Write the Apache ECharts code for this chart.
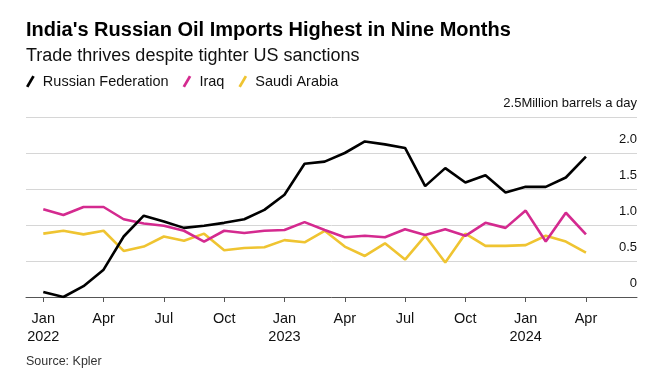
<!DOCTYPE html>
<html>
<head>
<meta charset="utf-8">
<script src="https://cdn.jsdelivr.net/npm/echarts@6/dist/echarts.min.js"></script>
<style>
html,body{margin:0;padding:0;background:#fff;}
#chart{width:667px;height:380px;}
</style>
</head>
<body>
<div id="chart"></div>
<script>
// Months from Jan 2022 to Apr 2024 (index 0..27)
var monthNames = ['Jan','Feb','Mar','Apr','May','Jun','Jul','Aug','Sep','Oct','Nov','Dec'];
var startYear = 2022;
var xTickMonths = [0, 3, 6, 9, 12, 15, 18, 21, 24, 27];
var yTickLabels = ['0', '0.5', '1.0', '1.5', '2.0', '2.5Million barrels a day'];

var russia = [0.07, 0.0, 0.15, 0.38, 0.84, 1.13, 1.05, 0.96, 0.99, 1.03, 1.08, 1.21,
              1.42, 1.85, 1.88, 2.0, 2.16, 2.12, 2.07, 1.54, 1.79, 1.59, 1.69, 1.45,
              1.53, 1.53, 1.66, 1.95];
var iraq = [1.22, 1.14, 1.25, 1.25, 1.08, 1.02, 0.99, 0.92, 0.77, 0.92, 0.89, 0.92,
            0.93, 1.04, 0.93, 0.83, 0.85, 0.83, 0.94, 0.86, 0.94, 0.85, 1.03, 0.96,
            1.20, 0.77, 1.17, 0.87];
var saudi = [0.88, 0.92, 0.87, 0.92, 0.64, 0.70, 0.84, 0.78, 0.88, 0.65, 0.68, 0.69,
             0.79, 0.76, 0.92, 0.70, 0.57, 0.745, 0.52, 0.85, 0.48, 0.88, 0.71, 0.71,
             0.72, 0.85, 0.77, 0.615];

function toPairs(arr){ return arr.map(function(v,i){ return [i, v]; }); }

var chart = echarts.init(document.getElementById('chart'));
var font = '"Liberation Sans", Arial, sans-serif';
var slash = 'path://M0,11 L6.5,0 L9,1.4 L2.5,12.4 Z';

var option = {
  backgroundColor: '#fff',
  animation: false,
  textStyle: { fontFamily: font },
  title: [
    { text: "India's Russian Oil Imports Highest in Nine Months", left: 26, top: 20, padding: 0,
      textStyle: { fontFamily: font, fontSize: 20, fontWeight: 'bold', color: '#000' } },
    { text: 'Trade thrives despite tighter US sanctions', left: 26, top: 47, padding: 0,
      textStyle: { fontFamily: font, fontSize: 18, fontWeight: 'normal', color: '#111' } },
    { text: 'Source: Kpler', left: 26, top: 355, padding: 0,
      textStyle: { fontFamily: font, fontSize: 12.5, fontWeight: 'normal', color: '#333' } }
  ],
  legend: {
    left: 26, top: 74, padding: 0, itemGap: 14,
    itemWidth: 9, itemHeight: 12,
    textStyle: { fontFamily: font, fontSize: 14.5, color: '#111', padding: [0,0,0,3] },
    data: [
      { name: 'Russian Federation', icon: slash },
      { name: 'Iraq', icon: slash },
      { name: 'Saudi Arabia', icon: slash }
    ]
  },
  grid: { left: 26, right: 30, top: 117, bottom: 83, containLabel: false },
  xAxis: {
    type: 'value', min: -0.86, max: 29.54,
    axisLine: { show: true, lineStyle: { color: '#555', width: 1 } },
    axisTick: { show: true, length: 5, customValues: xTickMonths, lineStyle: { color: '#555' } },
    splitLine: { show: false },
    axisLabel: {
      customValues: xTickMonths, margin: 13,
      fontFamily: font, fontSize: 14.5, color: '#111', lineHeight: 18,
      formatter: function(v){
        var m = Math.round(v);
        var name = monthNames[m % 12];
        if (m % 12 === 0) return name + '\n' + (startYear + m / 12);
        return name;
      }
    }
  },
  yAxis: {
    type: 'value', position: 'right', min: 0, max: 2.5, interval: 0.5,
    axisLine: { show: false }, axisTick: { show: false },
    splitLine: { show: true, lineStyle: { color: '#d6d6d6', width: 1 } },
    axisLabel: {
      inside: true, margin: 0, verticalAlign: 'bottom', padding: [0,0,7,0],
      fontFamily: font, fontSize: 13, color: '#111',
      showMinLabel: true, showMaxLabel: true,
      formatter: function(v){ return yTickLabels[Math.round(v / 0.5)]; }
    }
  },
  series: [
    { name: 'Russian Federation', type: 'line', data: toPairs(russia), showSymbol: false,
      color: '#000', lineStyle: { width: 2.6, color: '#000' }, z: 4 },
    { name: 'Iraq', type: 'line', data: toPairs(iraq), showSymbol: false,
      color: '#d42a8f', lineStyle: { width: 2.6, color: '#d42a8f' }, z: 3 },
    { name: 'Saudi Arabia', type: 'line', data: toPairs(saudi), showSymbol: false,
      color: '#efc431', lineStyle: { width: 2.6, color: '#efc431' }, z: 2 }
  ]
};
chart.setOption(option);
</script>
</body>
</html>
